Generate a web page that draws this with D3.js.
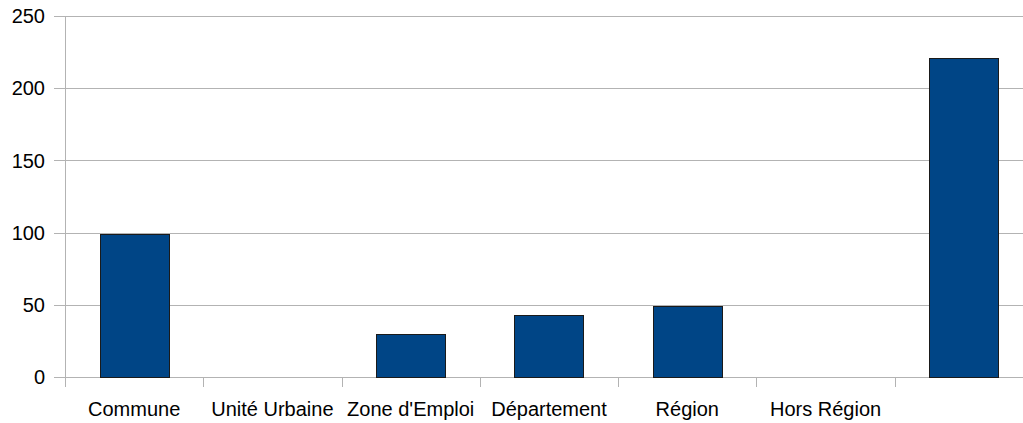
<!DOCTYPE html>
<html>
<head>
<meta charset="utf-8">
<script src="https://cdn.jsdelivr.net/npm/d3@7"></script>
<style>
  html, body { margin: 0; padding: 0; background: #fff; overflow: hidden; }
  svg { display: block; }
  svg text { font-family: "Liberation Sans", Arial, sans-serif; font-size: 20px; fill: #000; }
</style>
</head>
<body>
<div id="chart"></div>
<script>
// Values; last category has no label.
const categories = ['Commune', 'Unité Urbaine', "Zone d'Emploi", 'Département', 'Région', 'Hors Région', ''];
const values = [99, 0, 30, 43, 49, 0, 221];
const yTicks = [0, 50, 100, 150, 200, 250];

const width = 1023, height = 423;
// plot runs slightly past the right edge, as in the original export
const margin = { top: 16, right: -10, bottom: 46, left: 65 };
const innerWidth = width - margin.left - margin.right;
const innerHeight = height - margin.top - margin.bottom;

const svg = d3.select('#chart').append('svg').attr('width', width).attr('height', height);
const g = svg.append('g').attr('transform', `translate(${margin.left},${margin.top})`);

const x = d3.scaleBand().domain(d3.range(categories.length)).range([0, innerWidth]).paddingInner(0).paddingOuter(0);
const y = d3.scaleLinear().domain([0, 250]).range([innerHeight, 0]);

// horizontal gridlines + left tick stubs
g.selectAll('line.grid')
  .data(yTicks)
  .join('line')
  .attr('x1', -11)
  .attr('x2', innerWidth)
  .attr('y1', (d) => Math.round(y(d)) + 0.5)
  .attr('y2', (d) => Math.round(y(d)) + 0.5)
  .attr('stroke', '#b3b3b3');

g.selectAll('text.ylab')
  .data(yTicks)
  .join('text')
  .attr('x', -20)
  .attr('y', (d) => y(d))
  .attr('dy', '0.36em')
  .attr('text-anchor', 'end')
  .text((d) => d);

// y axis line
g.append('line')
  .attr('x1', 0.5).attr('x2', 0.5)
  .attr('y1', 0).attr('y2', innerHeight + 10)
  .attr('stroke', '#b3b3b3');

// category separators below the baseline
g.selectAll('line.xtick')
  .data(d3.range(1, categories.length))
  .join('line')
  .attr('x1', (d) => Math.round(x(d)) + 0.5)
  .attr('x2', (d) => Math.round(x(d)) + 0.5)
  .attr('y1', innerHeight)
  .attr('y2', innerHeight + 10)
  .attr('stroke', '#b3b3b3');

// bars, half the band wide
const bw = x.bandwidth() / 2;
g.selectAll('rect.bar')
  .data(values)
  .join('rect')
  .attr('x', (d, i) => Math.round(x(i) + x.bandwidth() / 4) + 0.5)
  .attr('y', (d) => Math.round(y(d)) + 0.5)
  .attr('width', Math.round(bw))
  .attr('height', (d) => Math.round(innerHeight - y(d)))
  .attr('fill', (d) => (d > 0 ? '#004586' : 'none'))
  .attr('stroke', (d) => (d > 0 ? '#1a1a1a' : 'none'));

g.selectAll('text.xlab')
  .data(categories)
  .join('text')
  .attr('x', (d, i) => x(i) + x.bandwidth() / 2)
  .attr('y', innerHeight + 39)
  .attr('text-anchor', 'middle')
  .text((d) => d);
</script>
</body>
</html>
